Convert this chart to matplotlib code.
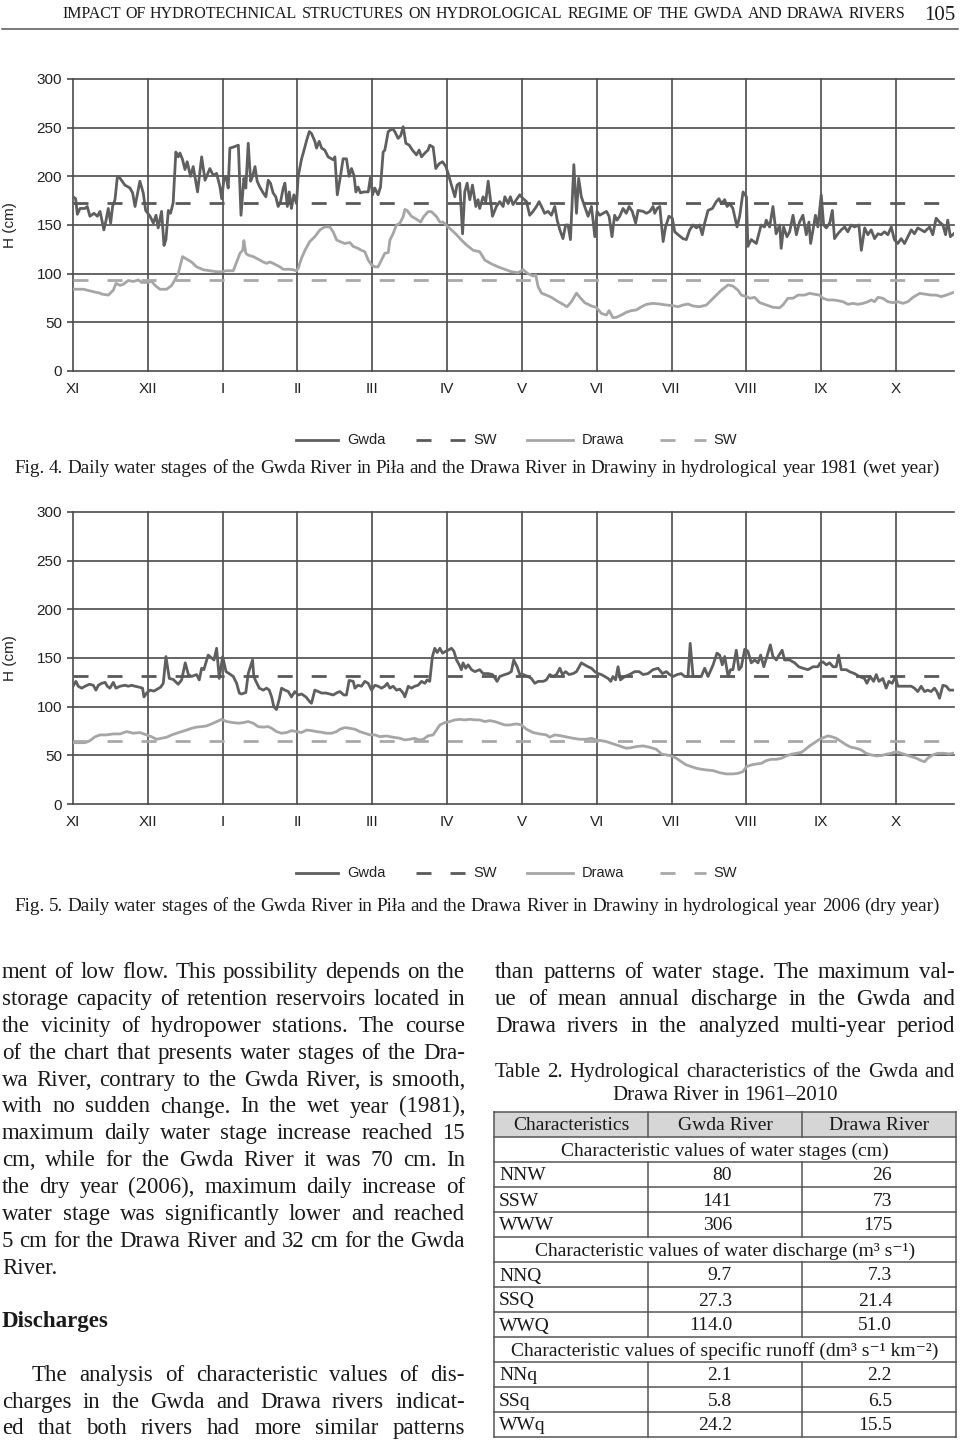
import matplotlib
matplotlib.use("Agg")
import matplotlib.pyplot as plt
from matplotlib.lines import Line2D
from matplotlib.patches import Rectangle
import numpy as np

plt.rcParams['lines.scale_dashes'] = False

# ---------------- DATA ----------------
months = ['XI', 'XII', 'I', 'II', 'III', 'IV', 'V', 'VI', 'VII', 'VIII', 'IX', 'X']
month_tick_interval = 31          # days between category ticks
n_days = 365
y_ticks = [0, 50, 100, 150, 200, 250, 300]

sw_1981_gwda = 173
sw_1981_drawa = 94
sw_2006_gwda = 131
sw_2006_drawa = 65

gwda_1981 = [
    (0,179),(1.1,177),(1.8,161),(2.9,167),(5,167),(5.9,169),(7,159),(8.7,162),(10.1,159),(11.2,164),
    (12.8,145),(13.7,155),(14.6,167),(15.6,152),(16.4,169),(17.4,176),(18.4,200),(19.5,198),(21.5,191),
    (23.6,188),(24.7,183),(25.7,169),(27.7,195),(29.1,183),(30.1,165),(31.9,159),(33.3,152),(34.4,160),
    (35.3,147),(36.7,164),(37.7,129),(38.5,135),(39.5,165),(40.4,162),(41.5,173),(42.6,225),(43.6,220),
    (44.3,224),(45.4,217),(46.4,207),(47.3,215),(48.7,200),(49.8,210),(51.6,184),(53.3,220),(54.7,196),
    (56.7,208),(58.1,201),(59.5,203),(60.9,189),(61.6,177),(62.5,196),(63.4,200),(64.3,188),(65,229),
    (66.4,230),(68.5,232),(69.6,160),(70.8,198),(71.6,188),(72.6,234),(73.6,195),(74.4,200),(75.4,210),
    (76.3,195),(77.4,189),(78.8,183),(79.9,179),(80.9,196),(81.8,193),(82.9,183),(84,179),(85,169),
    (86,174),(87.1,188),(87.8,193),(88.8,169),(89.6,184),(90.5,167),(91.5,181),(92.6,172),(93.3,200),
    (94.7,218),(95.4,224),(96.8,237),(97.9,246),(98.8,244),(100.2,236),(100.9,229),(102,236),(103,229),
    (104.3,227),(105.7,220),(107.8,217),(108.5,220),(109.5,181),(110.8,200),(111.9,218),(113.3,218),
    (114.4,200),(115.4,208),(116.4,201),(117.2,184),(118.1,189),(119.1,183),(120.5,184),(122.3,184),
    (123.3,200),(124.1,181),(125,188),(126.4,181),(127.4,189),(128.5,225),(129.2,227),(130.6,246),
    (132.4,249),(133.3,246),(134.7,239),(135.8,242),(136.8,251),(137.9,234),(139.3,232),(140.6,227),
    (142.3,222),(143.4,227),(144.4,220),(145.8,224),(147.1,227),(147.8,232),(149.2,230),(150.3,208),
    (151.7,213),(153.1,215),(154.5,210),(155.4,203),(156.8,191),(158.2,179),(159.1,191),(160.2,193),
    (161.4,141),(162.3,184),(163.3,193),(164.4,176),(165.5,191),(166.9,169),(167.8,176),
    (168.5,167),(169.9,179),(171,174),(172,195),(173.8,159),(175.4,169),(176.8,174),(178.2,169),
    (178.9,179),(180.3,172),(181.2,179),(182.3,171),(183.7,176),(185.1,181),(186.5,177),(187.9,174),
    (189.2,160),(190.6,164),(192,169),(193.1,174),(194.1,169),(195.4,162),(196.8,164),(198.2,160),
    (199.6,169),(200.6,155),(201.7,145),(203,136),(204.1,150),(205.1,150),(206.1,135),(207.5,212),
    (208.6,162),(209.5,198),(210.6,179),(212,169),(213.4,159),(214.8,169),(216.2,138),(217.1,164),
    (218.2,160),(219.6,162),(221,164),(222.1,159),(223.3,138),(224.4,160),(225.4,155),(226.5,159),
    (227.9,167),(229.2,162),(230.4,169),(231.7,164),(233.1,152),(234.1,165),(236.2,164),(237.6,162),
    (239,164),(240.3,169),(241,162),(242,167),(243.1,169),(244.5,133),(245.5,148),(246.9,159),
    (248.3,157),(249.3,143),(250.7,140),(252.7,136),(254.1,135),(255.5,145),(256.9,150),(258.3,147),
    (259.6,150),(260.7,140),(261.7,152),(263.1,165),(264.9,167),(266.5,174),(267.6,177),(268.6,172),
    (270,176),(271,169),(272.1,172),(273.4,167),(275.1,148),(276.2,159),(277.6,184),(279,179),
    (279.6,128),(281,135),(283.1,131),(285.1,150),(286.5,148),(287.2,155),(288.6,148),(290,169),
    (291.3,141),(292.8,150),(293.4,126),(294.4,148),(295.8,138),(296.9,143),(298.3,160),(299.7,140),
    (301,153),(302.4,160),(303.8,140),(304.9,153),(305.6,131),(306.6,145),(307.6,160),(308.6,148),
    (310,181),(311,150),(312.1,147),(313.5,152),(314.6,165),(315.5,136),(316.9,141),(318.3,145),
    (319.7,148),(321,143),(322.4,150),(323.8,148),(325.6,150),(326.6,124),(328,147),(329.3,140),
    (330.7,145),(332.1,136),(333.5,141),(334.8,140),(336.2,143),(337.6,140),(339,148),(340.3,135),
    (341.7,131),(343.1,136),(344.5,131),(345.9,138),(347.3,145),(348.6,141),(350,147),(351.4,145),
    (352.8,143),(354.9,148),(356.2,140),(357.6,157),(359,153),(360.4,150),(361.5,140),(362.4,155),
    (363.5,138),(364.9,141),
]

drawa_1981 = [
    (0,84),(4.3,84),(8.4,81.5),(11.2,80),(11.9,79),(14.6,78),(16.7,83),(17.8,90),(19.5,88),(20.8,89),
    (22.9,93),(25,92),(27.1,93.5),(28.4,91),(30.5,91),(32.6,92),(34,88),(36,84),(38.8,84),(40.9,88),
    (42.2,93.5),(43.6,100),(44.3,107),(45.4,117.5),(47.1,115),(49.1,112),(51.2,107),(54,104),
    (56.7,103),(59.5,102),(61.6,102),(63.6,103),(66.4,103),(67.8,112),(69.2,121),(70.3,124),
    (70.8,134),(71.6,121),(72.6,119),(74.7,117.5),(77.4,114),(78.8,112),(80.2,110.6),(81.6,112),
    (82.9,110.6),(85.7,107),(87.1,104.5),(89.9,104.5),(91.2,104),(92.6,103),(93.3,105.5),(94.7,116),
    (96.1,124),(98.1,133),(100.2,138),(102.3,145),(104.3,148),(106.4,148),(107.8,143),(109.2,134.6),
    (110.6,133),(112.6,131),(114.7,132),(116.1,128),(118.1,126),(119.5,124),(120.9,122.6),(122.3,114),
    (123.7,109),(125.1,107),(126.4,107),(127.8,114),(129.2,121),(130.6,121.6),(131.3,134.6),(132.6,141),
    (134,150),(135.4,151.7),(136.8,158.6),(137.5,166),(138.4,165),(140.2,159),(142.3,156),(144,153),
    (145.3,158.6),(147.1,163.7),(148.5,163.7),(150.6,158.6),(152,153),(153.3,153),(155.4,148),
    (156.8,145),(158.9,140),(160.9,134.6),(163,129.5),(165.8,124),(168.5,122.6),
    (170.6,114),(173.4,110),(176.1,107),(178.9,104.5),(181.6,102),(184.4,101),(186.5,104),(188.5,100),
    (190.6,97.6),(191.7,98.6),(192.7,86.6),(194.1,80),(196.1,78),(198.2,75.7),(200.3,72.3),(202.3,69.5),
    (204.7,66),(206.5,71.2),(208.6,80),(210,75.7),(212,70.2),(214.8,66.8),(216.8,65.4),(218.9,59.2),
    (221,57.5),(222.1,62),(223.7,54.8),(225.1,55.1),(227.2,57.5),(229.2,60.3),(231.3,62),(233.4,62.7),
    (235.5,66),(237.6,68.5),(240.3,69.5),(243.1,68.8),(245.8,67.8),(248.6,67.1),(250.7,66),(252.7,67.8),
    (254.8,68.8),(256.9,66.8),(259.6,66),(262.4,67.8),(264.5,73),(266.5,78),(268.6,83),(271.4,88.4),
    (273.4,87.3),(275.5,83),(276.9,78),(279,76.4),(280.4,74.7),(282.4,75.7),(284.5,70.2),(287.2,67.8),
    (290,65.4),(292.8,65),(294.1,67.8),(296.2,74.7),(298.3,74.7),(300.4,78),(303.1,78),(305.2,79.8),
    (307.3,78.8),(309.3,78),(310.7,74.7),(312.8,73),(314.9,73),(316.9,72.3),(319,71.2),(321.1,68.5),
    (323.1,69.5),(325.2,68.5),(327.3,69.5),(329.3,71.2),(330.7,73),(332.1,71.2),(333.5,75.7),
    (335.5,74.7),(337.6,71.2),(339.7,70.2),(341.7,71.2),(343.8,69.5),(345.9,71.2),(348,75.7),
    (350.8,79.8),(353.5,78.8),(355.6,78),(357.6,78),(359.7,76.4),(361.8,78),(364.5,80.5),
]

gwda_2006 = [
    (0,121),(1.2,126),(2.2,121),(3.6,119),(5,121),(6.8,123),(8.4,122),(9.5,117),(10.5,122),(11.9,124),
    (13.3,125),(14.2,121),(15.3,119),(16.7,125),(17.8,119),(19.5,121),(21.5,122),(22.9,121),(24.3,122),
    (25.7,121),(27.5,120),(28.8,119),(29.4,110),(30.5,114),(31.9,117),(33.5,116),(34.9,118),(36.3,120),
    (37.4,124),(38.5,151.5),(39.9,129),(41.5,128),(43.6,123),(45,127.5),(46.5,145),(47.8,133),(49.1,131),
    (51.2,133),(52.3,127.5),(53.3,139.5),(54.2,138),(56,153),(57.4,150),(58.4,148),(59.5,160),(60.6,129),
    (62,151.5),(63.4,136),(64.7,134),(66.4,131),(67.8,124),(68.9,114),(69.8,113),(71.6,114.5),(72.6,134),
    (73.6,142),(74.4,148),(74.9,131),(75.8,126),(77.2,119),(78.8,117),(80.2,119),(81.3,117),(82.3,110),
    (83.2,100),(84.3,97),(85.4,107),(86.4,119),(87.8,117),(89.2,115.5),(90.5,110),(91.9,115.5),(93.3,112),
    (94.7,113),(96.5,110),(98.1,105),(98.8,103.5),(100.2,117),(101.6,115.5),(103,114),(104.8,114),
    (106.4,113),(107.8,112),(109.5,114.5),(110.6,115.5),(112.2,112),(113.3,112),(114.4,127),(116.1,126),
    (116.8,119),(118.1,122),(119.5,121),(120.9,126),(122.3,124),(123.7,117),(125.1,122),(126.4,121),
    (127.8,119),(129.2,121),(130.2,124),(131.3,119),(132.6,121),(134,117),(135.4,118),(136.8,114),
    (137.5,110),(138.9,121),(140.2,119),(141.6,121),(143,122),(144.4,126),(145.8,124),(146.7,127.5),
    (147.8,126),(148.9,151.5),(149.9,160),(150.9,155.6),(152,160),(153.1,155),(154.5,157),(155.4,158),
    (156.8,160),(157.8,157),(158.9,148),(160,143),(160.9,138),(161.6,145),(162.7,139.5),(163.7,143),
    (165.1,138),(166.5,136),(168.5,138),
    (169.9,134),(172,134),(173.8,133),(175.7,126),(176.8,131),(178.9,133),(180.3,134),(181.6,136),
    (182.6,148),(184,141),(185.1,133),(186.5,133),(188.5,131),(189.9,129),(191.3,124),(192.7,126),
    (194.8,126),(196.1,127.5),(197.5,133),(198.9,131),(200.3,133),(201.7,139.5),(202.8,133),(204.1,136),
    (205.5,133),(207.2,134),(208.6,136),(210.6,145),(212,143),(213.4,141),(214.8,139.5),(216.2,136),
    (217.5,134),(218.9,133),(220.3,131),(221.7,129),(222.8,126),(223.7,131),(224.8,127.5),(225.8,141),
    (226.8,127.5),(228.6,131),(230.6,133),(232.7,136),(234.5,136),(236.2,133),(238.2,134),(240.3,138),
    (242.4,139.5),(244.2,134),(245.8,136),(247.2,133),(248.6,131),(250.3,133),(252,134),(253.4,131),
    (254.8,131),(255.7,165),(256.9,131),(258.3,131),(260.3,131),(261.7,139.5),(263.1,131),(265.2,143),
    (266.8,155),(267.9,153),(269,143),(270,151.5),(271.4,131),(272.4,138),(273.4,138),(274.8,158),
    (275.9,138),(276.9,141),(278.3,159),(279.6,157),(281,145),(282.4,148),(283.8,145),(284.9,153),
    (286.2,141),(287.5,151.5),(288.9,163.5),(290,151.5),(291.4,148),(292.5,153),(293.8,158),(294.8,148),
    (296.9,148),(299,145),(300.7,141),(302.4,139.5),(304.5,138),(306.6,141),(308.6,141),(309.6,145),
    (310.7,146),(312.1,143),(313.5,145),(314.9,141),(316.2,141),(317.2,153),(318.3,138),(320.4,138),
    (321.7,136),(323.8,134),(325.8,131),(327.9,129),(328.9,124),(330.3,131),(331.7,126),(332.8,133),
    (333.9,126),(335.5,129),(336.9,119),(338,126),(339.4,124),(340.8,131),(341.7,121),(343.1,121),
    (345.2,121),(347.3,121),(348.6,119),(350,115.5),(351.4,121),(352.8,115.5),(354.1,117),(355.5,115.5),
    (356.9,119),(357.9,115.5),(359,108.7),(360.4,122),(361.8,121),(363.1,117),(364.5,117),
]

drawa_2006 = [
    (0,63),(2.2,63),(5,63),(7,65),(9.1,69),(11.2,71),(13.9,71),(16.7,72),(19.5,72),(22.2,74.4),(25,72.7),
    (27.7,73.4),(30.5,71),(32.6,69),(34.6,66.5),(36.7,67.5),(38.8,68.6),(40.9,71),(42.9,72.7),(45,74.4),
    (47.1,76),(49.1,77.8),(51.2,79),(53.3,79.5),(55.3,80.2),(57.4,82.3),(59.5,84.7),(61.6,87),(63.6,84.7),
    (66.4,83.6),(68.5,83),(70.5,83.6),(72.6,84.7),(74.7,83),(76.7,79.5),(78.8,79),(80.9,79.5),(82.3,77.8),
    (84.3,74.4),(86.4,72.7),(88.5,73.4),(90.5,75.4),(92.6,74.4),(94.7,73.4),(96.8,76),(98.8,75.4),
    (100.9,74.4),(103,73.7),(105,72.7),(107.1,72.7),(109.2,74.4),(110.6,76.8),(112.6,78.5),(114.7,77.8),
    (116.8,76.8),(118.8,74.4),(120.9,72.7),(123,71),(125.1,71),(127.1,69.2),(129.9,69.9),(132.6,68.6),
    (135.4,67.5),(137.5,65.8),(139.5,66.5),(141.6,67.5),(143.4,65.8),(145.1,66.5),(147.1,70),(149.2,71),
    (150.6,76),(152,81.2),(154,83.6),(156.1,84.7),(158.2,86.4),(160.2,87),(162.3,86.4),(164.4,87),
    (166.5,86.4),(168.5,86.4),
    (170.6,84.7),(172.7,85.7),(174.7,84.7),(176.8,83),(178.9,81.2),(180.9,81.2),(183.7,82.3),(185.8,81.2),
    (187.9,76.8),(190.6,73.4),(193.4,72),(196.1,71),(197.5,68.6),(199.6,71),(202.3,70),(205.1,68.6),
    (207.2,67.5),(209.9,66.5),(212.7,66.5),(214.8,67.5),(216.8,65.8),(218.9,65.1),(221,64.1),(223.1,62.4),
    (225.1,60.7),(227.2,59),(229.2,57.3),(231.3,57.9),(233.4,59),(236.2,59.7),(238.9,58.3),(241.7,56.2),
    (243.8,51.4),(245.8,50.4),(247.9,49.4),(250,47),(252,43.5),(254.1,40.1),(256.2,38.4),(258.3,36.7),
    (260.3,35.7),(262.4,35),(265.2,34.3),(267.9,32.2),(270.7,30.9),(273.4,30.9),(275.5,31.5),(277.6,33.3),
    (279,38.4),(281,40.1),(283.1,41.1),(285.2,41.8),(287.2,44.6),(289.3,45.9),(291.4,45.9),(293.5,47),
    (295.5,49.4),(297.6,51.1),(299.7,52.1),(301.8,53.1),(303.1,55.5),(305.2,59.7),(307.3,63.1),(309.3,66.5),
    (311.4,68.6),(312.8,70),(314.2,69.2),(316.2,67.5),(318.3,64.1),(320.4,60.7),(322.4,58.3),(324.5,57.3),
    (326.6,55.5),(328.6,52.1),(330.7,50.4),(332.8,49.4),(334.8,49.7),(336.9,51.1),(339,52.1),(341.1,53.8),
    (343.1,52.1),(345.2,50.4),(347.3,48.7),(349.4,47),(351.4,44.6),(352.8,43.5),(354.1,47),(356.2,50.4),
    (358.3,52.1),(361,52.1),(363.1,51.4),(364.5,52.1),
]

legend_labels = ['Gwda', 'SW', 'Drawa', 'SW']

header_text = "IMPACT OF HYDROTECHNICAL STRUCTURES ON HYDROLOGICAL REGIME OF THE GWDA AND DRAWA RIVERS"
page_number = "105"
caption_fig4 = "Fig. 4. Daily water stages of the Gwda River in Piła and the Drawa River in Drawiny in hydrological year 1981 (wet year)"
caption_fig5 = "Fig. 5. Daily water stages of the Gwda River in Piła and the Drawa River in Drawiny in hydrological year 2006 (dry year)"

left_col_lines = [
    "ment of low flow. This possibility depends on the",
    "storage capacity of retention reservoirs located in",
    "the vicinity of hydropower stations. The course",
    "of the chart that presents water stages of the Dra-",
    "wa River, contrary to the Gwda River, is smooth,",
    "with no sudden change. In the wet year (1981),",
    "maximum daily water stage increase reached 15",
    "cm, while for the Gwda River it was 70 cm. In",
    "the dry year (2006), maximum daily increase of",
    "water stage was significantly lower and reached",
    "5 cm for the Drawa River and 32 cm for the Gwda",
    "River.",
]
section_heading = "Discharges"
left_col_lines2 = [
    "The analysis of characteristic values of dis-",
    "charges in the Gwda and Drawa rivers indicat-",
    "ed that both rivers had more similar patterns",
]
right_col_lines = [
    "than patterns of water stage. The maximum val-",
    "ue of mean annual discharge in the Gwda and",
    "Drawa rivers in the analyzed multi-year period",
]
table_caption = ["Table 2. Hydrological characteristics of the Gwda and",
                 "Drawa River in 1961–2010"]
table_header = ["Characteristics", "Gwda River", "Drawa River"]
table_sections = ["Characteristic values of water stages (cm)",
                  "Characteristic values of water discharge (m³ s⁻¹)",
                  "Characteristic values of specific runoff (dm³ s⁻¹ km⁻²)"]
table_labels = [["NNW", "SSW", "WWW"], ["NNQ", "SSQ", "WWQ"], ["NNq", "SSq", "WWq"]]
table_gwda = [["80", "141", "306"], ["9.7", "27.3", "114.0"], ["2.1", "5.8", "24.2"]]
table_drawa = [["26", "73", "175"], ["7.3", "21.4", "51.0"], ["2.2", "6.5", "15.5"]]

# ---------------- STYLE ----------------
W, H = 960, 1442
GRID = '#4b4b4b'
C_GWDA = '#5f5f5f'
C_DRAWA = '#a6a6a6'
C_SW_G = '#595959'
C_SW_D = '#a9a9a9'
TXT = '#1a1a1a'
SANS = ['Liberation Sans', 'DejaVu Sans']
SERIF = ['Liberation Serif', 'DejaVu Serif']
DASH = (0, (10.8, 13.7))
LW = 2.0

fig = plt.figure(figsize=(W / 100, H / 100), dpi=100)
fig.patch.set_facecolor('white')
renderer = fig.canvas.get_renderer()


def fx(x):
    return x / W


def fy(y):
    return 1 - y / H


def add_axes_px(left, top, right, bottom):
    return fig.add_axes([fx(left), fy(bottom), (right - left) / W, (bottom - top) / H])


def place_line(s, x0, x1, yb, size, weight='normal', justify=True, align='left', family=SERIF, color=TXT):
    words = s.split(' ')
    ts = [fig.text(0, fy(yb), w, fontsize=size, family=family, weight=weight,
                   va='baseline', ha='left', color=color) for w in words]
    ws = [t.get_window_extent(renderer).width for t in ts]
    space = size * 100 / 72 * 0.22
    target = x1 - x0
    natural = sum(ws) + space * (len(ws) - 1)
    if natural > target:
        f = target / natural
        for t in ts:
            t.set_fontsize(size * f)
        ws = [t.get_window_extent(renderer).width for t in ts]
        space *= f
    if justify and len(ws) > 1:
        gap = (target - sum(ws)) / (len(ws) - 1)
    else:
        gap = space
    total = sum(ws) + gap * (len(ws) - 1)
    if align == 'center':
        x = (x0 + x1) / 2 - total / 2
    elif align == 'right':
        x = x1 - total
    else:
        x = x0
    for t, w in zip(ts, ws):
        t.set_x(fx(x))
        x += w + gap


def draw_chart(top, gwda, drawa, sw_g, sw_d):
    ax = add_axes_px(73, top, 954, top + 292)
    ax.set_xlim(0, n_days)
    ax.set_ylim(0, 300)
    for s in ax.spines.values():
        s.set_visible(False)
    for v in y_ticks:
        ax.axhline(v, color=GRID, lw=1.2, zorder=1, clip_on=False)
    ticks = np.arange(len(months)) * month_tick_interval
    for d in ticks:
        ax.axvline(d, color=GRID, lw=1.2, zorder=1, clip_on=False)
    ax.set_yticks(y_ticks)
    ax.set_yticklabels([str(v) for v in y_ticks], family=SANS, fontsize=11, color='#222222')
    ax.tick_params(axis='y', length=4, width=1.2, color=GRID, pad=4)
    ax.set_xticks(ticks)
    ax.set_xticklabels(months, family=SANS, fontsize=11, color='#222222')
    ax.tick_params(axis='x', length=0, pad=8)
    gd, gv = zip(*gwda)
    dd, dv = zip(*drawa)
    ax.plot(gd, gv, color=C_GWDA, lw=LW, zorder=3)
    ax.axhline(sw_g, color=C_SW_G, lw=LW, ls=DASH, zorder=3)
    ax.plot(dd, dv, color=C_DRAWA, lw=LW, zorder=4)
    ax.axhline(sw_d, color=C_SW_D, lw=LW, ls=DASH, zorder=4)
    fig.text(fx(10), fy(top + 146), 'H (cm)', rotation=90, ha='center', va='center',
             family=SANS, fontsize=11, color='#222222')
    return ax


def draw_legend(y):
    items = [(296, 338, C_GWDA, '-', 347, legend_labels[0]),
             (416, 466, C_SW_G, DASH, 473, legend_labels[1]),
             (527, 573, C_DRAWA, '-', 582, legend_labels[2]),
             (660, 706, C_SW_D, DASH, 713, legend_labels[3])]
    for x0, x1, c, ls, tx, lab in items:
        fig.add_artist(Line2D([fx(x0), fx(x1)], [fy(y), fy(y)], color=c, lw=LW, ls=ls,
                              transform=fig.transFigure))
        fig.text(fx(tx), fy(y), lab, ha='left', va='center', family=SANS, fontsize=10.5,
                 color='#222222')


# ---------------- HEADER ----------------
place_line(header_text, 62, 905, 18, 11.5, justify=True)
fig.text(fx(955), fy(20), page_number, ha='right', va='baseline', family=SERIF, fontsize=15, color=TXT)
fig.add_artist(Line2D([fx(2), fx(958)], [fy(29), fy(29)], color='#555555', lw=1.1,
                      transform=fig.transFigure))

# ---------------- CHARTS ----------------
draw_chart(79, gwda_1981, drawa_1981, sw_1981_gwda, sw_1981_drawa)
draw_legend(440)
place_line(caption_fig4, 14, 940, 473, 14, justify=True)

draw_chart(512, gwda_2006, drawa_2006, sw_2006_gwda, sw_2006_drawa)
draw_legend(873)
place_line(caption_fig5, 14, 940, 911, 14, justify=True)

# ---------------- BODY TEXT ----------------
BODY = 16.5
for i, s in enumerate(left_col_lines):
    yb = 978 + 26.9 * i
    place_line(s, 2, 465, yb, BODY, justify=(i < len(left_col_lines) - 1))
place_line(section_heading, 2, 465, 1327, BODY, weight='bold', justify=False)
for i, s in enumerate(left_col_lines2):
    yb = 1381 + 26.6 * i
    x0 = 32 if i == 0 else 2
    place_line(s, x0, 465, yb, BODY, justify=True)
for i, s in enumerate(right_col_lines):
    yb = 978 + 26.9 * i
    place_line(s, 495, 955, yb, BODY, justify=True)

place_line(table_caption[0], 495, 955, 1077, 15, justify=True)
place_line(table_caption[1], 495, 955, 1100, 15, justify=False, align='center')

# ---------------- TABLE ----------------
TX = [494, 648, 802, 956]
T_TOP = 1112
RH = 25
n_rows = 1 + len(table_sections) * 4
LINE_C = '#555555'
TSIZE = 14

fig.add_artist(Rectangle((fx(TX[0]), fy(T_TOP + RH)), (TX[3] - TX[0]) / W, RH / H,
                         transform=fig.transFigure, facecolor='#d6d6d6', edgecolor='none'))
for r in range(n_rows + 1):
    y = T_TOP + r * RH
    fig.add_artist(Line2D([fx(TX[0]), fx(TX[3])], [fy(y), fy(y)], color=LINE_C, lw=1.1,
                          transform=fig.transFigure))
for x in (TX[0], TX[3]):
    fig.add_artist(Line2D([fx(x), fx(x)], [fy(T_TOP), fy(T_TOP + n_rows * RH)], color=LINE_C, lw=1.1,
                          transform=fig.transFigure))


def vdivs(r):
    for x in (TX[1], TX[2]):
        fig.add_artist(Line2D([fx(x), fx(x)], [fy(T_TOP + r * RH), fy(T_TOP + (r + 1) * RH)],
                              color=LINE_C, lw=1.1, transform=fig.transFigure))


vdivs(0)
for j, h in enumerate(table_header):
    cx = (TX[j] + TX[j + 1]) / 2
    fig.text(fx(cx), fy(T_TOP + RH / 2 + 6), h, ha='center', va='baseline', family=SERIF,
             fontsize=TSIZE, color=TXT)
row = 1
for k, sec in enumerate(table_sections):
    fig.text(fx((TX[0] + TX[3]) / 2), fy(T_TOP + row * RH + RH / 2 + 6), sec, ha='center',
             va='baseline', family=SERIF, fontsize=TSIZE, color=TXT)
    row += 1
    for lab, g, d in zip(table_labels[k], table_gwda[k], table_drawa[k]):
        vdivs(row)
        yb = T_TOP + row * RH + RH / 2 + 6
        fig.text(fx(TX[0] + 5), fy(yb), lab, ha='left', va='baseline', family=SERIF,
                 fontsize=TSIZE, color=TXT)
        fig.text(fx(732), fy(yb), g, ha='right', va='baseline', family=SERIF,
                 fontsize=TSIZE, color=TXT)
        fig.text(fx(892), fy(yb), d, ha='right', va='baseline', family=SERIF,
                 fontsize=TSIZE, color=TXT)
        row += 1

fig.savefig('out.png', dpi=100, facecolor='white')
